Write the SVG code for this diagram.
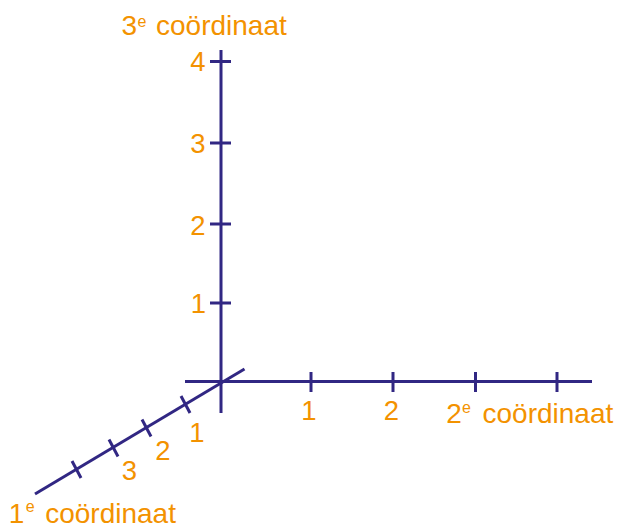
<svg xmlns="http://www.w3.org/2000/svg" width="619" height="526" viewBox="0 0 619 526">
<style>
.ax{stroke:#312783;stroke-width:3;fill:none;stroke-linecap:butt}
.t{font-family:"Liberation Sans",Arial,sans-serif;fill:#F39200;font-size:27.5px}
.l{font-family:"Liberation Sans",Arial,sans-serif;fill:#F39200;font-size:28px}
.s{font-family:"Liberation Sans",Arial,sans-serif;fill:#F39200;font-size:16px}
</style>
<rect width="619" height="526" fill="#fff"/>
<g id="connectors">
<line class="ax" x1="221" y1="50" x2="221" y2="413"/>
<line class="ax" x1="185" y1="381.5" x2="592" y2="381.5"/>
<line class="ax" x1="35" y1="494" x2="244.5" y2="369"/>
</g>
<g id="ticks-3">
<line class="ax" x1="210" y1="61.5" x2="231" y2="61.5"/>
<line class="ax" x1="210" y1="143" x2="231" y2="143"/>
<line class="ax" x1="210" y1="224" x2="231" y2="224"/>
<line class="ax" x1="210" y1="303" x2="231" y2="303"/>
</g>
<g id="ticks-2">
<line class="ax" x1="311" y1="372" x2="311" y2="392"/>
<line class="ax" x1="393" y1="372" x2="393" y2="392"/>
<line class="ax" x1="475.5" y1="372" x2="475.5" y2="392"/>
<line class="ax" x1="557" y1="372" x2="557" y2="392"/>
</g>
<g id="ticks-1">
<line class="ax" x1="181" y1="396" x2="190" y2="413"/>
<line class="ax" x1="142" y1="419.5" x2="151" y2="436.5"/>
<line class="ax" x1="109" y1="439.5" x2="118" y2="456.5"/>
<line class="ax" x1="72" y1="461" x2="81" y2="478"/>
</g>
<g id="labels-3">
<text class="t" x="205.5" y="70.5" text-anchor="end">4</text>
<text class="t" x="205.5" y="152.7" text-anchor="end">3</text>
<text class="t" x="205.5" y="235" text-anchor="end">2</text>
<text class="t" x="206" y="312.7" text-anchor="end">1</text>
</g>
<g id="labels-2">
<text class="t" x="309" y="420" text-anchor="middle">1</text>
<text class="t" x="391.5" y="420" text-anchor="middle">2</text>
</g>
<g id="labels-1">
<text class="t" x="197" y="441.7" text-anchor="middle">1</text>
<text class="t" x="163" y="460" text-anchor="middle">2</text>
<text class="t" x="129.5" y="480" text-anchor="middle">3</text>
</g>
<g id="axis-3-title">
<text class="l" x="121.5" y="35">3</text>
<text class="s" x="137.5" y="27">e</text>
<text class="l" x="156" y="35">coördinaat</text>
</g>
<g id="axis-2-title">
<text class="l" x="446.3" y="423.3">2</text>
<text class="s" x="462" y="412.7">e</text>
<text class="l" x="482.5" y="423.3">coördinaat</text>
</g>
<g id="axis-1-title">
<text class="l" x="8.7" y="522.5">1</text>
<text class="s" x="25.7" y="511.5">e</text>
<text class="l" x="45.2" y="522.5">coördinaat</text>
</g>
</svg>
